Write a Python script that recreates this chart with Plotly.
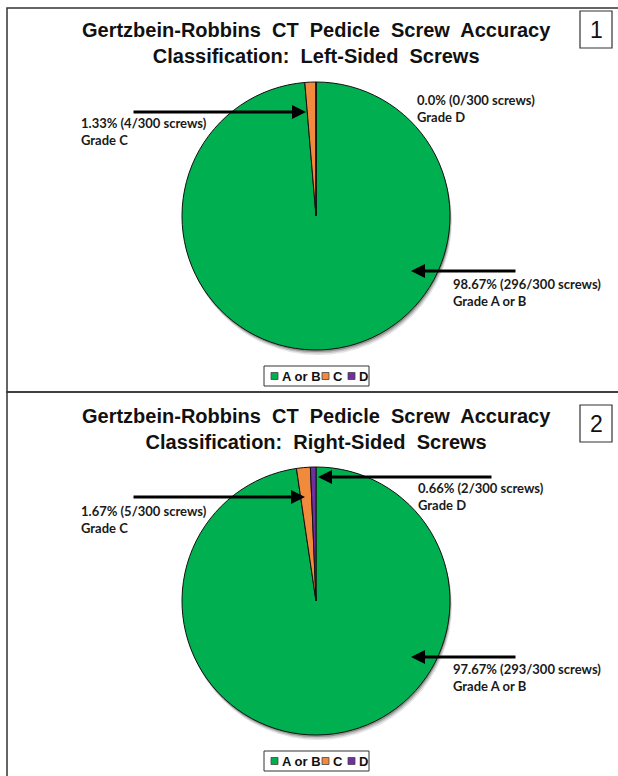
import plotly.graph_objects as go

W, H = 618, 776

# ---- data ----
categories = ["A or B", "C", "D"]
left_counts = [296, 4, 0]
right_counts = [293, 5, 2]
colors = ["#00B050", "#F28A3E", "#7030A0"]

title_left = "Gertzbein-Robbins  CT  Pedicle  Screw  Accuracy<br>Classification:  Left-Sided  Screws"
title_right = "Gertzbein-Robbins  CT  Pedicle  Screw  Accuracy<br>Classification:  Right-Sided  Screws"

left_labels = ["98.67% (296/300 screws)<br>Grade A or B",
               "1.33% (4/300 screws)<br>Grade C",
               "0.0% (0/300 screws)<br>Grade D"]
right_labels = ["97.67% (293/300 screws)<br>Grade A or B",
                "1.67% (5/300 screws)<br>Grade C",
                "0.66% (2/300 screws)<br>Grade D"]


def px(x):
    return x / W


def py(y):
    return 1 - y / H


fig = go.Figure()

pies = [
    dict(vals=left_counts, cx=316, cy=216, r=134),
    dict(vals=right_counts, cx=316, cy=601, r=134),
]

shapes = []
for p in pies:
    cx, cy, r = p["cx"], p["cy"], p["r"]
    # soft shadow
    for off, op in [(5, 0.10), (3.5, 0.15), (2, 0.25)]:
        shapes.append(dict(type="circle", xref="paper", yref="paper", layer="below",
                           x0=px(cx - r + off * 0.4), x1=px(cx + r + off * 0.4),
                           y0=py(cy + r + off), y1=py(cy - r + off),
                           fillcolor=f"rgba(0,0,0,{op})", line=dict(width=0)))
    fig.add_trace(go.Pie(
        labels=categories, values=p["vals"], sort=False, direction="clockwise",
        rotation=0, marker=dict(colors=colors, line=dict(color="#111111", width=1)),
        textinfo="none", hoverinfo="label+value", showlegend=False,
        domain=dict(x=[px(cx - r), px(cx + r)], y=[py(cy + r), py(cy - r)]),
    ))

# panel borders
border = "#333333"
shapes.append(dict(type="rect", xref="paper", yref="paper", x0=px(7), x1=px(625),
                   y0=py(392), y1=py(8), line=dict(color=border, width=1.5)))
shapes.append(dict(type="rect", xref="paper", yref="paper", x0=px(7), x1=px(625),
                   y0=py(790), y1=py(392), line=dict(color=border, width=1.5)))
# number boxes
shapes.append(dict(type="rect", xref="paper", yref="paper", x0=px(580), x1=px(612),
                   y0=py(48), y1=py(11), line=dict(color=border, width=1.2)))
shapes.append(dict(type="rect", xref="paper", yref="paper", x0=px(580), x1=px(612),
                   y0=py(442), y1=py(405), line=dict(color=border, width=1.2)))

annotations = []
title_font = dict(family="Liberation Sans, Arial", size=20, color="#111111")
annotations.append(dict(text="<b>" + title_left + "</b>", x=px(316), y=py(43), xref="paper",
                        yref="paper", showarrow=False, font=title_font, xanchor="center",
                        yanchor="middle"))
annotations.append(dict(text="<b>" + title_right + "</b>", x=px(316), y=py(429), xref="paper",
                        yref="paper", showarrow=False, font=title_font, xanchor="center",
                        yanchor="middle"))
num_font = dict(family="Liberation Sans, Arial", size=23, color="#111111")
annotations.append(dict(text="1", x=px(596), y=py(30), xref="paper", yref="paper",
                        showarrow=False, font=num_font, xanchor="center", yanchor="middle"))
annotations.append(dict(text="2", x=px(596), y=py(424), xref="paper", yref="paper",
                        showarrow=False, font=num_font, xanchor="center", yanchor="middle"))

lab_font = dict(family="Lato, Open Sans", size=13, color="#1a1a1a")


def label(text, x, y):
    annotations.append(dict(text="<b>" + text + "</b>", x=px(x), y=py(y), xref="paper",
                            yref="paper", showarrow=False, font=lab_font, xanchor="left",
                            yanchor="middle", align="left"))


def arrow(tx, ty, hx, hy):
    annotations.append(dict(text="", x=px(hx), y=py(hy), xref="paper", yref="paper",
                            ax=tx - hx, ay=ty - hy, axref="pixel", ayref="pixel",
                            showarrow=True, arrowhead=2, arrowsize=1, arrowwidth=2.8,
                            arrowcolor="#000000", standoff=0, startstandoff=0))


# panel 1
label(left_labels[1], 79, 131.5)
label(left_labels[2], 415, 109)
label(left_labels[0], 451, 292)
arrow(132, 112, 306, 112)
arrow(517, 271, 411, 271)
# panel 2
label(right_labels[1], 79, 519.5)
label(right_labels[2], 416, 497)
label(right_labels[0], 451, 677)
arrow(132, 497, 305, 497)
arrow(493, 477, 318, 477)
arrow(517, 657, 411, 657)

# manual legends
leg_font = dict(family="Liberation Sans, Arial", size=13, color="#111111")
for ly in [376, 761]:
    shapes.append(dict(type="rect", xref="paper", yref="paper", x0=px(264), x1=px(369),
                       y0=py(ly + 10), y1=py(ly - 10), line=dict(color="#333333", width=1)))
    item_x = [271, 322, 348]
    for i, cat in enumerate(categories):
        sx = item_x[i]
        shapes.append(dict(type="rect", xref="paper", yref="paper", x0=px(sx), x1=px(sx + 7),
                           y0=py(ly + 3.5), y1=py(ly - 3.5), fillcolor=colors[i],
                           line=dict(color="#444444", width=0.8)))
        annotations.append(dict(text="<b>" + cat + "</b>", x=px(sx + 9), y=py(ly + 0.5),
                                xref="paper", yref="paper", showarrow=False, font=leg_font,
                                xanchor="left", yanchor="middle"))

fig.update_layout(width=W, height=H, margin=dict(l=0, r=0, t=0, b=0),
                  paper_bgcolor="white", plot_bgcolor="white",
                  shapes=shapes, annotations=annotations)

fig.write_html("out.html", config={"displayModeBar": False},
               post_script="document.body.style.margin='0';document.body.style.padding='0';")
